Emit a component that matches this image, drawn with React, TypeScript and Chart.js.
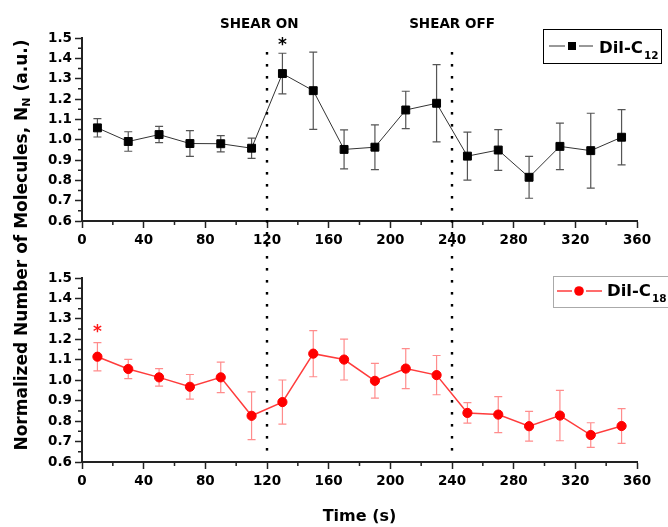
import React, { useEffect, useRef } from 'react';
import { Chart, registerables } from 'chart.js';

Chart.register(...registerables);

// ---- data ----
const times = [10, 30, 50, 70, 90, 110, 130, 150, 170, 190, 210, 230, 250, 270, 290, 310, 330, 350];
const c12Values = [1.058, 0.991, 1.025, 0.981, 0.98, 0.958, 1.325, 1.241, 0.952, 0.963, 1.146, 1.179, 0.919, 0.949, 0.815, 0.967, 0.946, 1.012];
const c12Errors = [0.045, 0.048, 0.04, 0.063, 0.04, 0.05, 0.1, 0.19, 0.096, 0.11, 0.092, 0.19, 0.118, 0.1, 0.103, 0.114, 0.184, 0.136];
const c18Values = [1.115, 1.055, 1.014, 0.968, 1.014, 0.826, 0.893, 1.13, 1.101, 0.997, 1.057, 1.025, 0.84, 0.832, 0.775, 0.827, 0.732, 0.776];
const c18Errors = [0.069, 0.047, 0.043, 0.06, 0.075, 0.117, 0.108, 0.113, 0.1, 0.085, 0.098, 0.096, 0.05, 0.088, 0.073, 0.123, 0.06, 0.085];

const xMin = 0;
const xMax = 360;
const xMajorStep = 40;
const xMinorStep = 20;
const yMin = 0.6;
const yMax = 1.5;
const yMajorStep = 0.1;
const yMinorStep = 0.05;

const shearLineX = [120, 240];
const shearLabels = ['SHEAR ON', 'SHEAR OFF'];
const shearLabelX = [115, 240];

const topStarX = [130];
const topStarY = [1.477];
const bottomStarX = [10];
const bottomStarY = [1.25];

const legendTop = { main: 'Dil-C', sub: '12' };
const legendBottom = { main: 'Dil-C', sub: '18' };

const yTitle = 'Normalized Number of Molecules, N';
const yTitleSub = 'N';
const yTitleEnd = ' (a.u.)';
const xTitle = 'Time (s)';

const FONT = '"DejaVu Sans", "Liberation Sans", Arial, sans-serif';

const W = 668;
const TOP_H = 260;
const BOT_H = 267;
const DOT_PERIOD = 12;

type PanelOpts = {
  values: number[];
  errors: number[];
  color: string;
  lineColor: string;
  errColor: string;
  pointStyle: string;
  pointRadius: number;
  lineWidth: number;
  isTop: boolean;
};

function makePlugin(o: PanelOpts) {
  return {
    id: 'panelExtras' + (o.isTop ? 'Top' : 'Bot'),
    beforeDatasetsDraw(chart: any) {
      const ctx = chart.ctx;
      const xs = chart.scales.x;
      const ys = chart.scales.y;
      ctx.save();
      ctx.strokeStyle = o.errColor;
      ctx.lineWidth = 1.2;
      times.forEach((t, i) => {
        const px = xs.getPixelForValue(t);
        const pTop = ys.getPixelForValue(o.values[i] + o.errors[i]);
        const pBot = ys.getPixelForValue(o.values[i] - o.errors[i]);
        ctx.beginPath();
        ctx.moveTo(px, pTop);
        ctx.lineTo(px, pBot);
        ctx.moveTo(px - 4, pTop);
        ctx.lineTo(px + 4, pTop);
        ctx.moveTo(px - 4, pBot);
        ctx.lineTo(px + 4, pBot);
        ctx.stroke();
      });
      ctx.restore();
    },
    afterDraw(chart: any) {
      const ctx = chart.ctx;
      const xs = chart.scales.x;
      const ys = chart.scales.y;
      const area = chart.chartArea;
      ctx.save();
      // minor ticks
      ctx.strokeStyle = '#222';
      ctx.lineWidth = 1.5;
      ctx.beginPath();
      for (let v = xMin + xMinorStep; v < xMax; v += xMajorStep) {
        const px = xs.getPixelForValue(v);
        ctx.moveTo(px, area.bottom);
        ctx.lineTo(px, area.bottom + 4);
      }
      for (let v = yMin + yMinorStep; v < yMax; v += yMajorStep) {
        const py = ys.getPixelForValue(v);
        ctx.moveTo(area.left, py);
        ctx.lineTo(area.left - 4, py);
      }
      ctx.stroke();

      // dotted shear lines
      ctx.fillStyle = '#000';
      const topStart = 52; // page px in top canvas
      shearLineX.forEach((v) => {
        const px = xs.getPixelForValue(v);
        if (o.isTop) {
          for (let y = area.top + 14; y < chart.height; y += DOT_PERIOD) {
            ctx.fillRect(px - 1.2, y, 2.4, 2.6);
          }
        } else {
          const start = (((topStart - TOP_H) % DOT_PERIOD) + DOT_PERIOD) % DOT_PERIOD;
          for (let y = start; y < area.bottom - 10; y += DOT_PERIOD) {
            ctx.fillRect(px - 1.2, y, 2.4, 2.6);
          }
        }
      });

      // texts
      if (o.isTop) {
        ctx.fillStyle = '#000';
        ctx.font = `bold 13.5px ${FONT}`;
        ctx.textAlign = 'center';
        ctx.textBaseline = 'alphabetic';
        shearLabels.forEach((s, i) => {
          ctx.fillText(s, xs.getPixelForValue(shearLabelX[i]), 28);
        });
        ctx.font = `bold 17px ${FONT}`;
        ctx.textBaseline = 'middle';
        topStarX.forEach((sx, i) => {
          ctx.fillText('*', xs.getPixelForValue(sx), ys.getPixelForValue(topStarY[i]) + 3);
        });
      } else {
        ctx.fillStyle = '#ff1a1a';
        ctx.font = `bold 17px ${FONT}`;
        ctx.textAlign = 'center';
        ctx.textBaseline = 'middle';
        bottomStarX.forEach((sx, i) => {
          ctx.fillText('*', xs.getPixelForValue(sx), ys.getPixelForValue(bottomStarY[i]) + 3);
        });
      }

      // legend
      const lg = o.isTop
        ? { x: 543.5, y: 29.5, w: 118, h: 34, cy: 46, l1: 549, l2: 593, mx: 572, tx: 599, base: 53, subBase: 59 }
        : { x: 553.5, y: 16.5, w: 120, h: 31, cy: 31, l1: 557, l2: 602, mx: 579, tx: 607, base: 36, subBase: 42 };
      ctx.fillStyle = '#fff';
      ctx.fillRect(lg.x, lg.y, lg.w, lg.h);
      ctx.strokeStyle = o.isTop ? '#000' : '#aaa';
      ctx.lineWidth = 1;
      ctx.strokeRect(lg.x, lg.y, lg.w, lg.h);
      ctx.strokeStyle = o.lineColor;
      ctx.lineWidth = o.lineWidth;
      ctx.beginPath();
      ctx.moveTo(lg.l1, lg.cy);
      ctx.lineTo(lg.mx - 7, lg.cy);
      ctx.moveTo(lg.mx + 7, lg.cy);
      ctx.lineTo(lg.l2, lg.cy);
      ctx.stroke();
      ctx.fillStyle = o.color;
      if (o.pointStyle === 'rect') {
        ctx.fillRect(lg.mx - 4, lg.cy - 4, 8, 8);
      } else {
        ctx.beginPath();
        ctx.arc(lg.mx, lg.cy, 4.8, 0, Math.PI * 2);
        ctx.fill();
      }
      const lt = o.isTop ? legendTop : legendBottom;
      ctx.fillStyle = '#000';
      ctx.textAlign = 'left';
      ctx.textBaseline = 'alphabetic';
      ctx.font = `bold 16.5px ${FONT}`;
      ctx.fillText(lt.main, lg.tx, lg.base);
      const mw = ctx.measureText(lt.main).width;
      ctx.font = `bold 10.5px ${FONT}`;
      ctx.fillText(lt.sub, lg.tx + mw + 1, lg.subBase);
      ctx.restore();
    },
  };
}

function makeConfig(o: PanelOpts): any {
  const tickFont = { family: FONT, size: 13.5, weight: 'bold' as const };
  return {
    type: 'line',
    data: {
      datasets: [
        {
          data: times.map((t, i) => ({ x: t, y: o.values[i] })),
          borderColor: o.lineColor,
          borderWidth: o.lineWidth,
          pointStyle: o.pointStyle,
          pointRadius: o.pointRadius,
          pointBackgroundColor: o.color,
          pointBorderColor: o.color,
          pointBorderWidth: 1,
          tension: 0,
          clip: false,
        },
      ],
    },
    options: {
      responsive: false,
      animation: false,
      events: [],
      layout: { padding: { top: o.isTop ? 38 : 18, right: 31, left: 0, bottom: 0 } },
      plugins: { legend: { display: false }, tooltip: { enabled: false }, title: { display: false } },
      scales: {
        x: {
          type: 'linear',
          min: xMin,
          max: xMax,
          ticks: { stepSize: xMajorStep, color: '#000', font: tickFont, padding: 4, maxRotation: 0, autoSkip: false },
          grid: { drawOnChartArea: false, drawTicks: true, tickLength: 7, tickColor: '#222', tickWidth: 1.5 },
          border: { display: true, color: '#222', width: 2 },
          title: o.isTop
            ? { display: false }
            : { display: true, text: xTitle, color: '#000', font: { family: FONT, size: 16, weight: 'bold' }, padding: { top: 0, bottom: 1 } },
          afterFit: (s: any) => {
            s.height = o.isTop ? TOP_H - 221 : BOT_H - 202;
          },
        },
        y: {
          type: 'linear',
          min: yMin,
          max: yMax,
          ticks: {
            stepSize: yMajorStep,
            color: '#000',
            font: tickFont,
            padding: 3,
            callback: (v: number) => v.toFixed(1),
          },
          grid: { drawOnChartArea: false, drawTicks: true, tickLength: 7, tickColor: '#222', tickWidth: 1.5 },
          border: { display: true, color: '#222', width: 2 },
          afterFit: (s: any) => {
            s.width = 82;
          },
        },
      },
    },
    plugins: [makePlugin(o)],
  };
}

export default function App() {
  const topRef = useRef<HTMLCanvasElement | null>(null);
  const botRef = useRef<HTMLCanvasElement | null>(null);

  useEffect(() => {
    const topOpts: PanelOpts = {
      values: c12Values,
      errors: c12Errors,
      color: '#000',
      lineColor: '#333',
      errColor: '#555',
      pointStyle: 'rect',
      pointRadius: 5.6,
      lineWidth: 1,
      isTop: true,
    };
    const botOpts: PanelOpts = {
      values: c18Values,
      errors: c18Errors,
      color: '#ff0000',
      lineColor: '#ff3c3c',
      errColor: '#ff8c8c',
      pointStyle: 'circle',
      pointRadius: 4.6,
      lineWidth: 1.5,
      isTop: false,
    };
    const c1 = new Chart(topRef.current as HTMLCanvasElement, makeConfig(topOpts));
    const c2 = new Chart(botRef.current as HTMLCanvasElement, makeConfig(botOpts));
    return () => {
      c1.destroy();
      c2.destroy();
    };
  }, []);

  return (
    <div style={{ position: 'absolute', left: 0, top: 0, width: W, height: TOP_H + BOT_H, background: '#fff', overflow: 'hidden' }}>
      <canvas ref={topRef} width={W} height={TOP_H} style={{ position: 'absolute', left: 0, top: 0, display: 'block' }} />
      <canvas ref={botRef} width={W} height={BOT_H} style={{ position: 'absolute', left: 0, top: TOP_H, display: 'block' }} />
      <div
        style={{
          position: 'absolute',
          left: 21 - 210,
          top: 245 - 10,
          width: 420,
          height: 20,
          lineHeight: '20px',
          textAlign: 'center',
          transform: 'rotate(-90deg)',
          font: `bold 17px ${FONT}`,
          whiteSpace: 'nowrap',
          color: '#000',
        }}
      >
        {yTitle}
        <sub style={{ fontSize: 11, verticalAlign: '-3px', lineHeight: 0 }}>{yTitleSub}</sub>
        {yTitleEnd}
      </div>
    </div>
  );
}
